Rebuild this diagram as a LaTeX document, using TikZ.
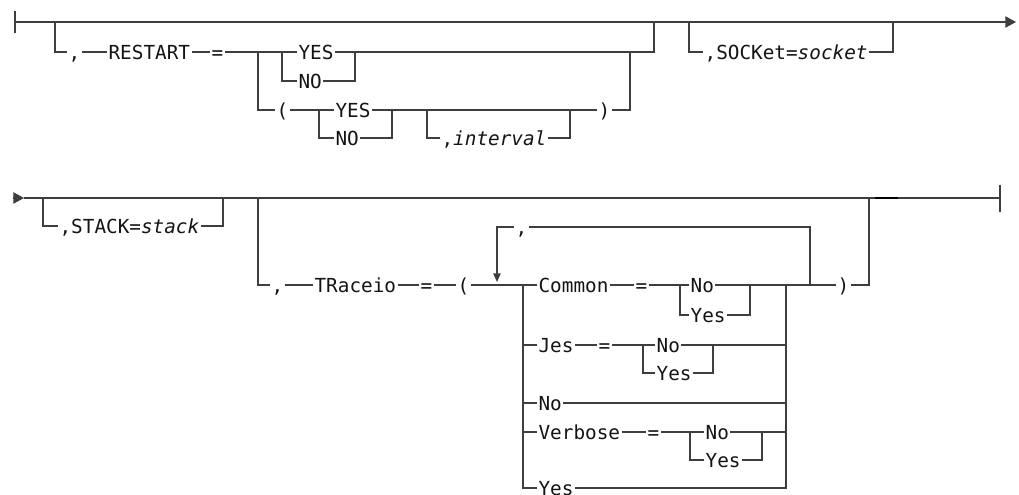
\documentclass[tikz,border=0pt]{standalone}
\usepackage{fontspec}
\setmonofont{DejaVu Sans Mono}[ItalicFont={DejaVu Sans Mono Oblique}]
\usetikzlibrary{arrows.meta,positioning}
\definecolor{SynInk}{RGB}{20,20,20}
\definecolor{SynRail}{RGB}{62,62,62}
\newcommand\synfont{\ttfamily\fontsize{14.5pt}{17pt}\selectfont}
\tikzset{
  syn/token/.style={
    anchor=west,
    font=\synfont,
    text=SynInk,
    inner xsep=1pt,
    inner ysep=0pt,
    text height=10.6pt,
    text depth=0pt
  },
  syn/rail/.style={draw=SynRail, line width=1pt},
  syn/tip/.style={-{Triangle[length=8pt,width=8.5pt]}},
  syn/smalltip/.style={-{Triangle[length=6.5pt,width=5.5pt]}},
  syn/bar/.style={draw=SynRail, line width=1pt}
}

\begin{document}
\begin{tikzpicture}[x=0.75pt,y=-0.75pt]
  \fill[white] (0,0) rectangle (1019,495);
  \useasboundingbox (0,0) rectangle (1019,495);

  % first line
  \coordinate (r1s) at (15,22);
  \coordinate (r1e) at (1016,22);
  \draw[syn/bar] ([yshift=8.25pt]r1s) -- ([yshift=-8.25pt]r1s);
  \draw[syn/rail,syn/tip] (r1s) -- (r1e);

  % RESTART
  \coordinate (rsB) at (55,22);
  \node[syn/token] (rsComma) at (67,52) {,};
  \node[syn/token] (rsKey) at (107,52) {RESTART};
  \node[syn/token] (rsEq) at (210,52) {=};
  \coordinate (rsJ) at (258,52);
  \coordinate (rsS1) at (282,52);
  \node[syn/token] (rsYes) at (297,52) {YES};
  \node[syn/token] (rsNo) at (297,81) {NO};
  \coordinate (rsR1) at (355,52);
  \coordinate (rsR) at (630,52);
  \coordinate (rsE) at (654,22);
  \node[syn/token] (rsLp) at (275,110) {(};
  \coordinate (rsS2) at (319,110);
  \node[syn/token] (rsYes2) at (334,110) {YES};
  \node[syn/token] (rsNo2) at (334,138) {NO};
  \coordinate (rsR2) at (392,110);
  \coordinate (rsS3) at (427,110);
  \node[syn/token] (rsIntv) at (440,138) {,{\itshape interval}};
  \coordinate (rsR3) at (570,110);
  \node[syn/token] (rsRp) at (597,110) {)};
  \draw[syn/rail] (rsB) |- (rsComma);
  \draw[syn/rail] (rsComma) -- (rsKey) -- (rsEq) -- (rsS1) -- (rsYes) -- (rsR) -| (rsE);
  \draw[syn/rail] (rsS1) |- (rsNo) -| (rsR1);
  \draw[syn/rail] (rsJ) |- (rsLp) -- (rsYes2) -- (rsRp) -| (rsR);
  \draw[syn/rail] (rsS2) |- (rsNo2) -| (rsR2);
  \draw[syn/rail] (rsS3) |- (rsIntv) -| (rsR3);

  % SOCKet
  \coordinate (skB) at (689,22);
  \node[syn/token] (skTok) at (703,52) {,SOCKet={\itshape socket}};
  \coordinate (skE) at (893,22);
  \draw[syn/rail] (skB) |- (skTok) -| (skE);

  % second line
  \coordinate (r2s) at (13,198);
  \coordinate (r2a) at (24,198);
  \coordinate (r2e) at (1000,198);
  \coordinate (r2m1) at (875,198);
  \coordinate (r2m2) at (898,198);
  \draw[syn/rail,syn/tip] (r2s) -- (r2a);
  \draw[syn/rail] (r2a) -- (r2e);
  \draw[syn/bar] ([yshift=10pt]r2e) -- ([yshift=-10.5pt]r2e);
  \draw[line width=1.6pt,draw=black] (r2m1) -- (r2m2);

  % STACK
  \coordinate (stB) at (43,198);
  \node[syn/token] (stTok) at (58,226) {,STACK={\itshape stack}};
  \coordinate (stE) at (223,198);
  \draw[syn/rail] (stB) |- (stTok) -| (stE);

  % TRaceio
  \coordinate (trB) at (258,198);
  \node[syn/token] (trComma) at (270,285) {,};
  \node[syn/token] (trKey) at (313,285) {TRaceio};
  \node[syn/token] (trEq) at (419,285) {=};
  \node[syn/token] (trLp) at (456,285) {(};
  \coordinate (lpL) at (497,282);
  \coordinate (lpR) at (810,285);
  \node[syn/token] (lpSep) at (514,227) {,};
  \coordinate (railL) at (523,285);
  \coordinate (railR) at (786,285);
  \node[syn/token] (trRp) at (836,285) {)};
  \coordinate (trE) at (869,198);

  \node[syn/token] (cmKey) at (537,285) {Common};
  \node[syn/token] (cmEq) at (634,285) {=};
  \coordinate (cmS) at (680,285);
  \node[syn/token] (cmNo) at (689,285) {No};
  \node[syn/token] (cmYes) at (689,315) {Yes};
  \coordinate (cmR) at (750,285);

  \node[syn/token] (jsKey) at (537,345) {Jes};
  \node[syn/token] (jsEq) at (597,345) {=};
  \coordinate (jsS) at (643,345);
  \node[syn/token] (jsNo) at (655,345) {No};
  \node[syn/token] (jsYes) at (655,373) {Yes};
  \coordinate (jsR) at (713,345);

  \node[syn/token] (noKey) at (537,403) {No};

  \node[syn/token] (vbKey) at (537,432) {Verbose};
  \node[syn/token] (vbEq) at (646,432) {=};
  \coordinate (vbS) at (690,432);
  \node[syn/token] (vbNo) at (704,432) {No};
  \node[syn/token] (vbYes) at (704,460) {Yes};
  \coordinate (vbR) at (762,432);

  \node[syn/token] (ysKey) at (537,488) {Yes};

  \draw[syn/rail] (trB) |- (trComma);
  \draw[syn/rail] (trComma) -- (trKey) -- (trEq) -- (trLp) -- (cmKey) -- (cmEq) -- (cmS) -- (cmNo) -- (trRp) -| (trE);
  \draw[syn/rail] (cmS) |- (cmYes) -| (cmR);
  \draw[syn/rail] (lpR) |- (lpSep);
  \draw[syn/rail,syn/smalltip] (lpSep) -| (lpL);
  \draw[syn/rail] (railL) |- (jsKey) -- (jsEq) -- (jsS) -- (jsNo) -| (railR);
  \draw[syn/rail] (jsS) |- (jsYes) -| (jsR);
  \draw[syn/rail] (railL) |- (noKey) -| (railR);
  \draw[syn/rail] (railL) |- (vbKey) -- (vbEq) -- (vbS) -- (vbNo) -| (railR);
  \draw[syn/rail] (vbS) |- (vbYes) -| (vbR);
  \draw[syn/rail] (railL) |- (ysKey) -| (railR);
\end{tikzpicture}
\end{document}
